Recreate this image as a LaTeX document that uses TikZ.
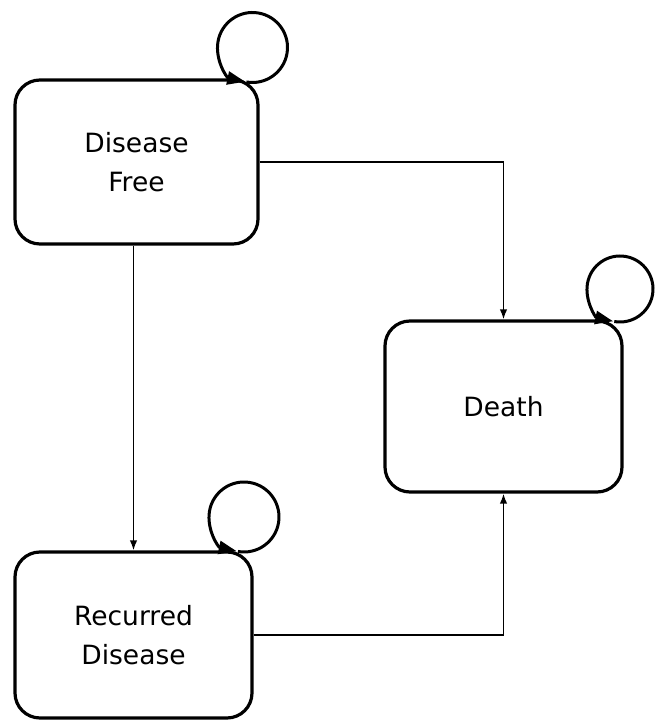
\documentclass[tikz,border=0pt]{standalone}
\usepackage{fontspec}
\setmainfont{DejaVu Sans}
\usetikzlibrary{arrows.meta}
\begin{document}
\begin{tikzpicture}[x=1pt,y=1pt,
  state/.style={draw,line width=3.2pt,rounded corners=25pt,align=center,
    font=\fontsize{26.5}{39}\selectfont,inner sep=0pt},
  conn/.style={line width=1.7pt,-{Latex[length=10pt,width=7.5pt]}},
  selfloop/.style={line width=3pt,-{Triangle[length=18pt,width=13pt]}}]
\useasboundingbox (0,0) rectangle (654,720);
\node[state,minimum width=243pt,minimum height=164pt] (df) at (136.5,558) {Disease\\Free};
\node[state,minimum width=237pt,minimum height=166pt] (rd) at (133.5,85) {Recurred\\Disease};
\node[state,minimum width=237pt,minimum height=171pt] (de) at (503.5,313.5) {Death};
\coordinate (dfl) at (252.5,672.5);
\coordinate (del) at (620,431);
\coordinate (rdl) at (244,203);
\draw[conn] (df.east) -| (de.north);
\draw[conn] (rd.north |- df.south) -- (rd.north);
\draw[conn] (rd.east) -| (de.south);
\draw[selfloop] ([shift={(-100:35)}]dfl) arc[start angle=-100,end angle=258,radius=35];
\draw[selfloop] ([shift={(-100:33)}]del) arc[start angle=-100,end angle=258,radius=33];
\draw[selfloop] ([shift={(-100:35)}]rdl) arc[start angle=-100,end angle=258,radius=35];
\end{tikzpicture}
\end{document}
